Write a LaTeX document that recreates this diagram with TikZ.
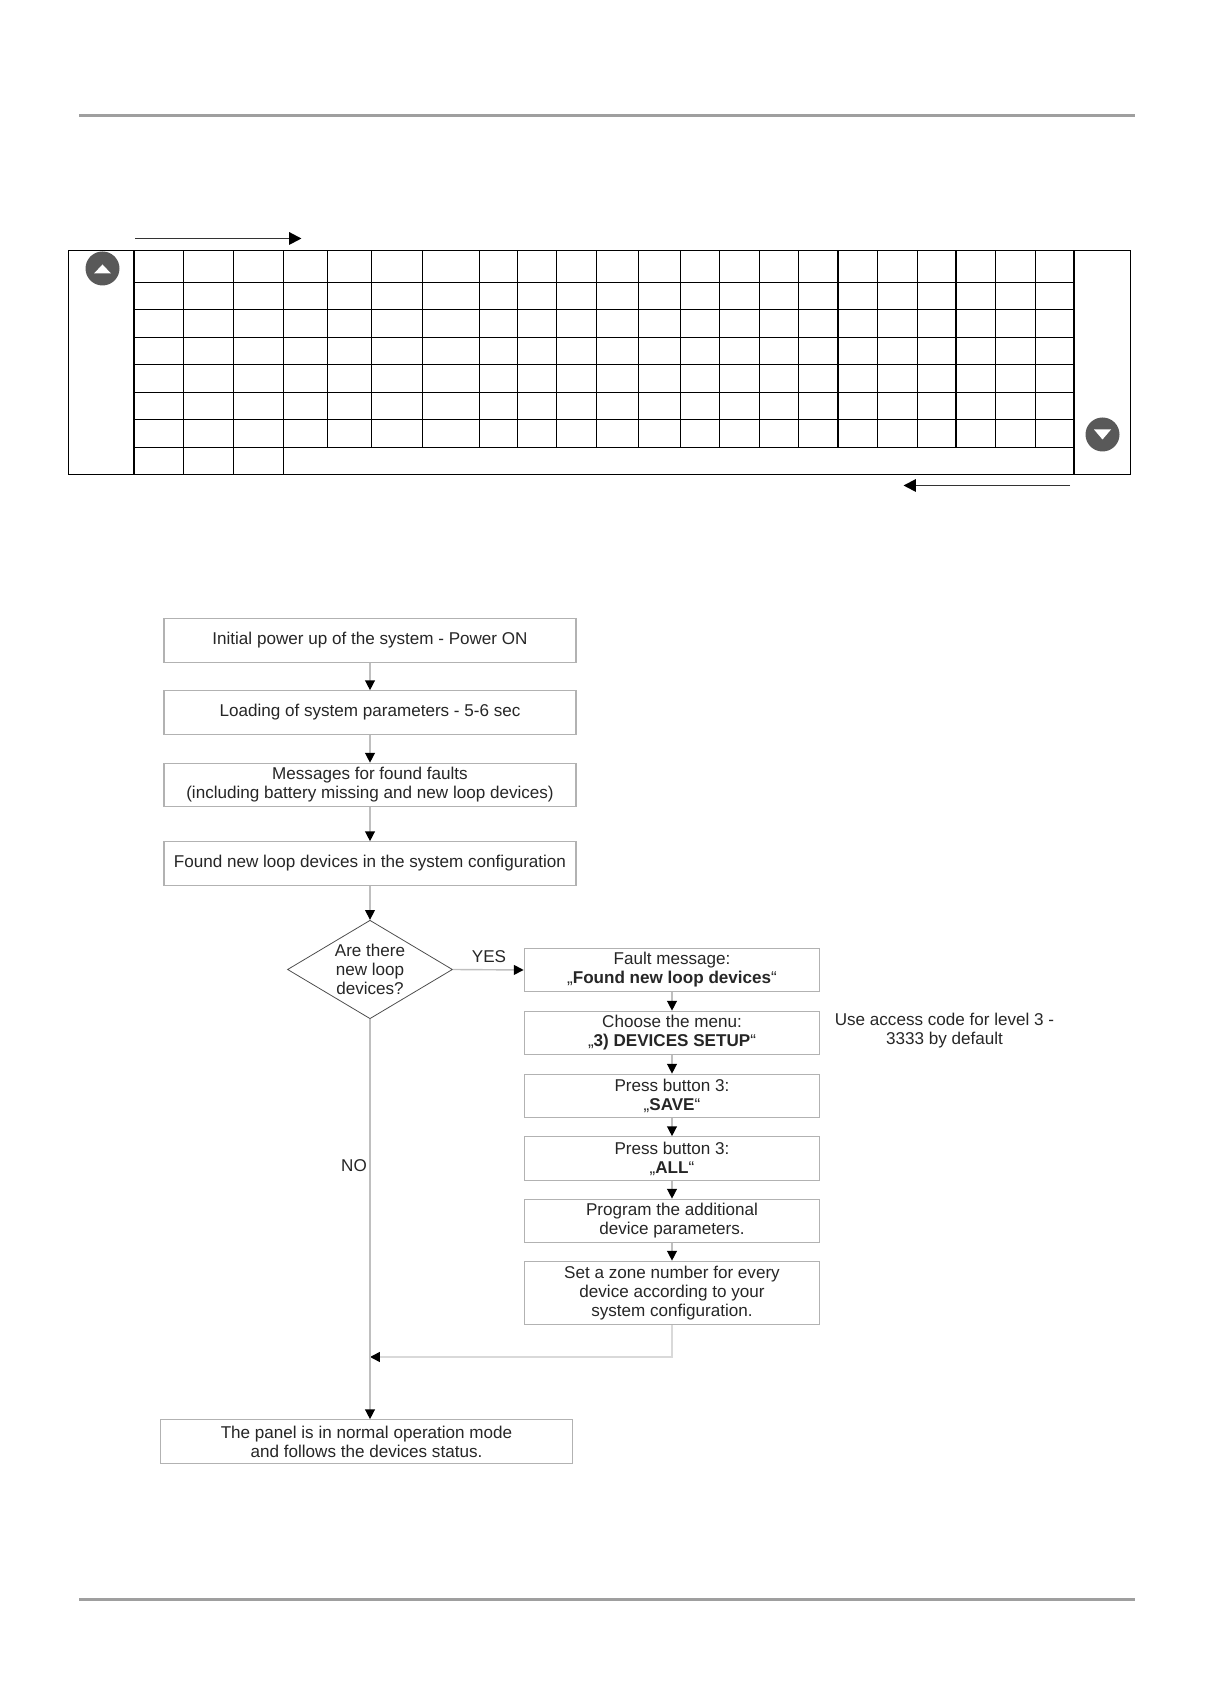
\documentclass[tikz,border=0pt]{standalone}
\usepackage{fontspec}
\setmainfont{Liberation Sans}
\usetikzlibrary{arrows.meta}
\usetikzlibrary{shapes.geometric}

\begin{document}
\begin{tikzpicture}[line cap=butt,line join=miter,x=1.0cm,y=1.0cm,
    >={Triangle[length=5.6pt,width=5.6pt,black]},
    rulebar/.style={line width=1.8pt,color=gray!75},
    tableline/.style={line width=0.72pt,color=black},
    bigarrow/.style={line width=1.1pt,color=black!80,-{Triangle[length=7pt,width=7pt,black]}},
    scrollbutton/.style={circle,fill=black!65,inner sep=0pt,minimum size=0.68cm},
    flowbox/.style={draw=gray!60,line width=0.65pt,text=black!85,align=center,inner sep=0pt,
      font=\fontsize{9.72}{10.8}\selectfont,minimum height=0.87cm},
    leftbox/.style={flowbox,minimum width=8.24cm},
    rightbox/.style={flowbox,minimum width=5.91cm},
    askbox/.style={diamond,draw=black!70,line width=0.45pt,text=black!85,align=center,inner sep=0pt,
      aspect=1.67,font=\fontsize{9.72}{10.8}\selectfont,minimum width=3.3cm,minimum height=1.97cm},
    flowlabel/.style={text=black!85,align=center,inner sep=0pt,font=\fontsize{9.72}{10.8}\selectfont},
    link/.style={draw=gray!50,line width=0.8pt,->},
    backlink/.style={draw=gray!30,line width=0.85pt,->}]
      \useasboundingbox (0.,0.) rectangle (24.26,34.14);
      % page rules
      \draw [rulebar] (1.58,31.83)-- (22.70,31.83);
      \draw [rulebar] (1.58,2.15)-- (22.70,2.15);
      % table
      \draw [tableline] (1.37,29.13) rectangle (22.61,24.65);
      \draw [tableline] (2.68,29.13)-- (2.68,24.65);
      \draw [tableline] (3.67,29.13)-- (3.67,24.65);
      \draw [tableline] (4.67,29.13)-- (4.67,24.65);
      \draw [tableline] (5.67,29.13)-- (5.67,24.65);
      \draw [tableline] (6.55,29.13)-- (6.55,25.19);
      \draw [tableline] (7.43,29.13)-- (7.43,25.19);
      \draw [tableline] (8.45,29.13)-- (8.45,25.19);
      \draw [tableline] (9.59,29.13)-- (9.59,25.19);
      \draw [tableline] (10.35,29.13)-- (10.35,25.19);
      \draw [tableline] (11.13,29.13)-- (11.13,25.19);
      \draw [tableline] (11.93,29.13)-- (11.93,25.19);
      \draw [tableline] (12.77,29.13)-- (12.77,25.19);
      \draw [tableline] (13.61,29.13)-- (13.61,25.19);
      \draw [tableline] (14.39,29.13)-- (14.39,25.19);
      \draw [tableline] (15.19,29.13)-- (15.19,25.19);
      \draw [tableline] (15.97,29.13)-- (15.97,25.19);
      \draw [tableline] (16.76,29.13)-- (16.76,25.19);
      \draw [tableline] (17.55,29.13)-- (17.55,25.19);
      \draw [tableline] (18.35,29.13)-- (18.35,25.19);
      \draw [tableline] (19.12,29.13)-- (19.12,25.19);
      \draw [tableline] (19.91,29.13)-- (19.91,25.19);
      \draw [tableline] (20.71,29.13)-- (20.71,25.19);
      \draw [tableline] (21.48,29.13)-- (21.48,24.65);
      \draw [tableline] (2.68,28.49)-- (21.48,28.49);
      \draw [tableline] (2.68,27.95)-- (21.48,27.95);
      \draw [tableline] (2.68,27.39)-- (21.48,27.39);
      \draw [tableline] (2.68,26.85)-- (21.48,26.85);
      \draw [tableline] (2.68,26.29)-- (21.48,26.29);
      \draw [tableline] (2.68,25.75)-- (21.48,25.75);
      \draw [tableline] (2.68,25.19)-- (21.48,25.19);
      % scroll buttons and arrows
      \node [scrollbutton] (btnup) at (2.05,28.77) {};
      \fill [white] (1.88,28.67)-- (2.22,28.67)-- (2.05,28.85)-- cycle;
      \node [scrollbutton] (btndown) at (22.05,25.45) {};
      \fill [white] (21.88,25.55)-- (22.22,25.55)-- (22.05,25.35)-- cycle;
      \coordinate (fwdstart) at (2.70,29.37);
      \coordinate (fwdend) at (6.03,29.37);
      \coordinate (backstart) at (21.40,24.43);
      \coordinate (backend) at (18.07,24.43);
      \draw [bigarrow] (fwdstart)-- (fwdend);
      \draw [bigarrow] (backstart)-- (backend);
      % flow boxes
      \node [leftbox] (powerup) at (7.40,21.33) {Initial power up of the system - Power ON};
      \node [leftbox] (loading) at (7.40,19.89) {Loading of system parameters - 5-6 sec};
      \node [leftbox] (faults) at (7.40,18.44) {Messages for found faults\\(including battery missing and new loop devices)};
      \node [leftbox] (found) at (7.40,16.87) {Found new loop devices in the system configuration};
      \node [askbox] (ask) at (7.40,14.75) {Are there\\new loop\\devices?};
      \node [rightbox] (faultmsg) at (13.44,14.74) {Fault message:\\„\textbf{Found new loop devices}“};
      \node [rightbox] (menu) at (13.44,13.48) {Choose the menu:\\„\textbf{3) DEVICES SETUP}“};
      \node [rightbox] (save) at (13.44,12.22) {Press button 3:\\„\textbf{SAVE}“};
      \node [rightbox] (all) at (13.44,10.97) {Press button 3:\\„\textbf{ALL}“};
      \node [rightbox] (program) at (13.44,9.72) {Program the additional\\device parameters.};
      \node [rightbox,minimum height=1.27cm] (zone) at (13.44,8.28) {Set a zone number for every\\device according to your\\system configuration.};
      \node [flowbox,minimum width=8.25cm] (panel) at (7.33,5.31) {The panel is in normal operation mode\\and follows the devices status.};
      % labels
      \node [flowlabel] (yeslabel) at (9.78,15.01) {YES};
      \node [flowlabel] (nolabel) at (7.08,10.82) {NO};
      \node [flowlabel] (codenote) at (18.89,13.525) {Use access code for level 3 -\\3333 by default};
      % links
      \coordinate (merge) at (7.40,7.00);
      \draw [link] (powerup)-- (loading);
      \draw [link] (loading)-- (faults);
      \draw [link] (faults)-- (found);
      \draw [link] (found)-- (ask);
      \draw [link] (ask.east)-- (faultmsg.west);
      \draw [link] (faultmsg)-- (menu);
      \draw [link] (menu)-- (save);
      \draw [link] (save)-- (all);
      \draw [link] (all)-- (program);
      \draw [link] (program)-- (zone);
      \draw [backlink] (zone.south) |- (merge);
      \draw [link] (ask.south)-- (ask.south |- panel.north);
    \end{tikzpicture}
\end{document}
